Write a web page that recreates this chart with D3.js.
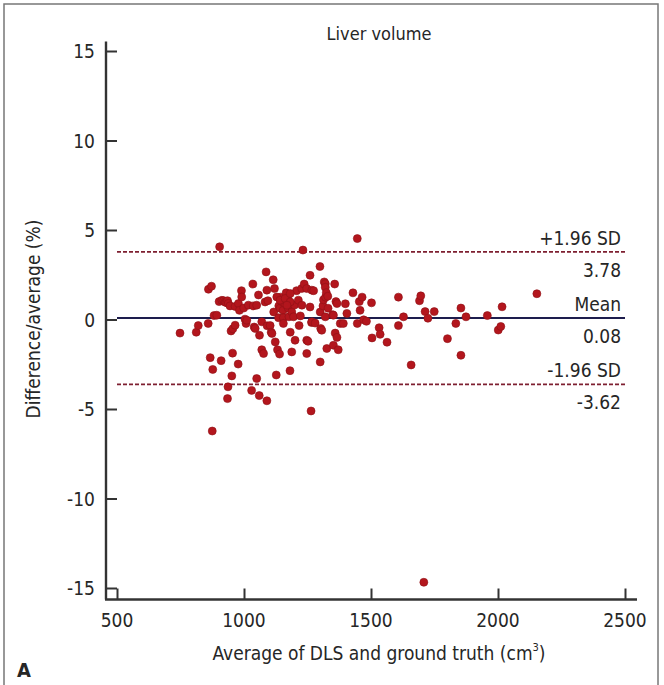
<!DOCTYPE html>
<html>
<head>
<meta charset="utf-8">
<script src="https://cdn.jsdelivr.net/npm/d3@7"></script>
<style>
  html, body { margin: 0; padding: 0; background: #fff; }
  svg text { font-family: "DejaVu Sans Condensed", "DejaVu Sans", sans-serif; fill: #262626; }
</style>
</head>
<body>
<div id="chart"></div>
<script>
// average volume (cm3) of each case
const avgVolume = [
  748, 812, 820, 859, 860, 872, 867, 877, 875, 882, 893, 904, 902, 910, 913, 920, 925, 929, 935, 938,
  945, 937, 935, 949, 956, 955, 952, 965, 965, 977, 978, 982, 990, 991, 999, 1004, 1008, 1011, 1017, 1035,
  1037, 1040, 1044, 1030, 1050, 1050, 1057, 1060, 1061, 1070, 1077, 1070, 1083, 1087, 1090, 1091, 1094, 1090, 1103, 1107,
  1110, 1115, 1120, 1123, 1127, 1132, 1140, 1117, 1137, 1142, 1144, 1149, 1154, 1136, 1155, 1155, 1160, 1166, 1172, 1174,
  1177, 1182, 1181, 1188, 1188, 1195, 1199, 1201, 1207, 1214, 1217, 1222, 1227, 1228, 1232, 1237, 1247, 1247, 1247, 1252,
  1260, 1260, 1264, 1266, 1267, 1267, 1274, 1280, 1299, 1300, 1300, 1302, 1306, 1311, 1313, 1316, 1320, 1320, 1321, 1324,
  1320, 1326, 1330, 1331, 1349, 1352, 1352, 1357, 1362, 1366, 1359, 1366, 1371, 1379, 1391, 1399, 1405, 1429, 1446, 1446,
  1454, 1457, 1465, 1471, 1482, 1502, 1504, 1532, 1536, 1563, 1608, 1608, 1628, 1658, 1691, 1696, 1708, 1713, 1724, 1749,
  1801, 1834, 1854, 1854, 1874, 1958, 2001, 2011, 2016, 2153, 1129, 1142, 1162, 1182, 1182, 1169
];
// difference / average (%) of each case
const diffPct = [
  -0.76, -0.71, -0.34, -0.22, 1.69, 1.86, -2.13, -2.79, -6.23, 0.22, 0.24, 4.06, 1.0, -2.30, 1.07, 1.05, 0.98, 0.95, 1.05, 0.90,
  0.76, -3.76, -4.42, -0.64, -0.52, -1.88, -3.15, 0.73, -0.32, -2.49, 0.89, 0.51, 1.61, 1.26, 0.64, 0.02, -0.22, -0.04, 0.80, 1.98,
  0.76, -0.42, -0.50, -3.96, -3.30, 0.80, 1.37, -4.25, -0.88, -1.69, -1.90, -0.13, 0.98, 2.66, 1.64, -0.35, 1.05, -4.54, -0.34, -0.71,
  -0.78, 2.22, 1.73, -1.25, -3.10, -1.69, -1.93, 0.42, 0.76, 0.63, 1.25, 1.0, 0.51, 0.10, 0.10, -0.22, 0.90, 1.49, 1.20, 0.64,
  0.15, -0.71, -2.86, -1.81, 0.42, 0.15, 0.81, -1.16, 1.61, 1.08, -0.34, 0.20, 1.73, 0.80, 3.88, 1.98, 1.73, -1.16, -1.90, -1.22,
  2.47, 0.70, -5.11, -0.17, 1.64, -0.13, 1.61, -0.20, 2.96, 0.42, -2.37, -0.50, -0.60, 0.76, 1.10, 2.10, 2.00, 1.80, 1.25, 1.50,
  0.15, -1.62, 1.30, 0.63, 0.27, 0.24, -1.44, 1.98, 1.0, 0.89, -0.76, -1.0, -1.69, -0.22, -0.22, 0.88, 0.34, 1.49, 4.52, -0.22,
  1.0, 0.51, 1.25, -0.02, -0.10, 0.93, -1.03, -0.46, -0.83, -1.27, 1.25, -0.34, 0.15, -2.54, 1.05, 1.32, -14.68, 0.44, 0.07, 0.44,
  -1.07, -0.22, 0.64, -2.0, 0.15, 0.22, -0.59, -0.39, 0.71, 1.44, 1.26, 1.08, 1.17, 1.45, 0.98, 0.80
];

const xTicks = [500, 1000, 1500, 2000, 2500];
const yTicks = [15, 10, 5, 0, -5, -10, -15];

// reference lines: +1.96 SD, mean, -1.96 SD
const refNames = ['+1.96 SD', 'Mean', '-1.96 SD'];
const refValues = [3.78, 0.08, -3.62];

const width = 664;
const height = 685;

const svg = d3.select('#chart').append('svg')
  .attr('width', width)
  .attr('height', height);

// frame round the panel
svg.append('rect')
  .attr('x', 4).attr('y', 4)
  .attr('width', 654).attr('height', 700)
  .attr('fill', 'none')
  .attr('stroke', '#777')
  .attr('stroke-width', 1.5);

const x = d3.scaleLinear().domain([500, 2500]).range([117, 625]);
const y = d3.scaleLinear().domain([15, -15]).range([51, 588]);

const axisLeft = x.invert(106);
const axisRight = x.invert(637);
const axisTop = y.invert(41.5);
const axisBottom = y.invert(599.5);

// axes
const yAxis = d3.axisRight(y)
  .tickValues(yTicks)
  .tickSize(11)
  .tickFormat('');
const gy = svg.append('g')
  .attr('transform', `translate(${x(axisLeft)},0)`)
  .call(yAxis);
gy.select('.domain').remove();
gy.selectAll('.tick line').attr('stroke', '#333').attr('stroke-width', 2);

const xAxis = d3.axisTop(x)
  .tickValues(xTicks)
  .tickSize(11)
  .tickFormat('');
const gx = svg.append('g')
  .attr('transform', `translate(0,${y(axisBottom)})`)
  .call(xAxis);
gx.select('.domain').remove();
gx.selectAll('.tick line').attr('stroke', '#333').attr('stroke-width', 2);

svg.append('line')
  .attr('x1', x(axisLeft)).attr('x2', x(axisLeft))
  .attr('y1', y(axisTop)).attr('y2', y(axisBottom))
  .attr('stroke', '#333').attr('stroke-width', 2.4);
svg.append('line')
  .attr('x1', x(axisLeft) - 1).attr('x2', x(axisRight))
  .attr('y1', y(axisBottom)).attr('y2', y(axisBottom))
  .attr('stroke', '#333').attr('stroke-width', 2.4);

// tick labels
svg.selectAll('.ylab').data(yTicks).enter()
  .append('text')
  .attr('class', 'ylab')
  .attr('x', 95)
  .attr('y', d => y(d) + 7)
  .attr('text-anchor', 'end')
  .attr('font-size', 19)
  .text(d => d);

svg.selectAll('.xlab').data(xTicks).enter()
  .append('text')
  .attr('class', 'xlab')
  .attr('x', d => x(d))
  .attr('y', 627)
  .attr('text-anchor', 'middle')
  .attr('font-size', 19)
  .text(d => d);

// reference lines
svg.selectAll('.ref').data(refValues).enter()
  .append('line')
  .attr('class', 'ref')
  .attr('x1', x(500)).attr('x2', x(2500))
  .attr('y1', d => y(d)).attr('y2', d => y(d))
  .attr('stroke', (d, i) => i === 1 ? '#1d1d4d' : '#7e1f30')
  .attr('stroke-width', (d, i) => i === 1 ? 2 : 1.8)
  .attr('stroke-dasharray', (d, i) => i === 1 ? null : '4,2');

svg.selectAll('.refname').data(refNames).enter()
  .append('text')
  .attr('class', 'refname')
  .attr('x', 621)
  .attr('y', (d, i) => y(refValues[i]) - 7)
  .attr('text-anchor', 'end')
  .attr('font-size', 19)
  .text(d => d);

svg.selectAll('.refval').data(refValues).enter()
  .append('text')
  .attr('class', 'refval')
  .attr('x', 621)
  .attr('y', d => y(d) + 25)
  .attr('text-anchor', 'end')
  .attr('font-size', 19)
  .text(d => d.toFixed(2));

// points
const points = avgVolume.map((v, i) => ({ v: v, d: diffPct[i] }));
svg.append('g').selectAll('circle').data(points).enter()
  .append('circle')
  .attr('cx', p => x(p.v))
  .attr('cy', p => y(p.d))
  .attr('r', 4)
  .attr('fill', '#b3161d')
  .attr('stroke', '#8e1016')
  .attr('stroke-width', 0.6);

// titles
svg.append('text')
  .attr('x', 379).attr('y', 40)
  .attr('text-anchor', 'middle')
  .attr('font-size', 18)
  .text('Liver volume');

const xt = svg.append('text')
  .attr('x', 379).attr('y', 660)
  .attr('text-anchor', 'middle')
  .attr('font-size', 19);
xt.append('tspan').text('Average of DLS and ground truth (cm');
xt.append('tspan').attr('font-size', 11).attr('dy', -9).text('3');
xt.append('tspan').attr('dy', 9).text(')');

svg.append('text')
  .attr('transform', 'translate(40,319) rotate(-90)')
  .attr('text-anchor', 'middle')
  .attr('font-size', 19)
  .text('Difference/average (%)');

svg.append('text')
  .attr('x', 17).attr('y', 677)
  .attr('font-size', 20)
  .attr('font-weight', 'bold')
  .text('A');
</script>
</body>
</html>
